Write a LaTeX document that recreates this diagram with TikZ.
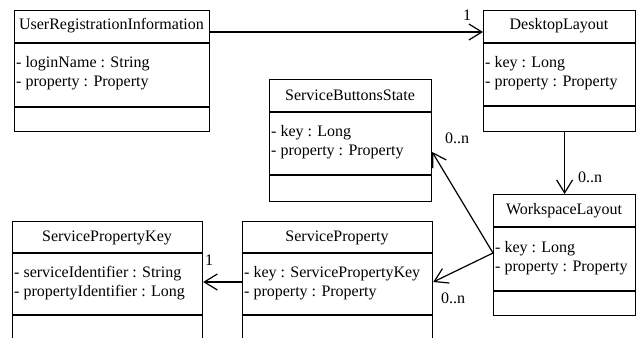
\documentclass[tikz,border=0pt]{standalone}
\usepackage{fontspec}
\setmainfont{Liberation Serif}
\usetikzlibrary{arrows.meta}
\begin{document}
\begin{tikzpicture}[x=1pt,y=-1pt, font=\fontsize{16}{19}\selectfont,
  box/.style={draw, line width=1.2pt, inner sep=0pt, anchor=north west},
  divider/.style={line width=1.2pt},
  attr/.style={inner sep=0pt, anchor=base west},
  hdr/.style={inner sep=0pt, anchor=base},
  mult/.style={inner sep=0pt},
  assoc/.style={line width=1.2pt, -{Straight Barb[length=13pt,width=16pt,line width=1.2pt]}}]
\useasboundingbox (0,0) rectangle (639,337);
\clip (0,0) rectangle (639,337);
% UserRegistrationInformation
\node[box, minimum width=195pt, minimum height=121pt] (uri) at (14,10) {};
\draw[divider] (14,43) -- (209,43) (14,107) -- (209,107);
\node[hdr] (urih) at (111.5,30) {UserRegistrationInformation};
\node[attr] (uria1) at (16,67) {- loginName : String};
\node[attr] (uria2) at (16,86) {- property : Property};
% DesktopLayout
\node[box, minimum width=152pt, minimum height=121pt] (dl) at (483,10) {};
\draw[divider] (483,43) -- (635,43) (483,106) -- (635,106);
\node[hdr] (dlh) at (559,30) {DesktopLayout};
\node[attr] (dla1) at (485,67) {- key : Long};
\node[attr] (dla2) at (485,86) {- property : Property};
% ServiceButtonsState
\node[box, minimum width=162pt, minimum height=122pt] (sbs) at (269,79) {};
\draw[divider] (269,112) -- (431,112) (269,175) -- (431,175);
\node[hdr] (sbsh) at (350,100) {ServiceButtonsState};
\node[attr] (sbsa1) at (271,136) {- key : Long};
\node[attr] (sbsa2) at (271,155) {- property : Property};
% WorkspaceLayout
\node[box, minimum width=142pt, minimum height=121pt] (wl) at (493,194) {};
\draw[divider] (493,227) -- (635,227) (493,291) -- (635,291);
\node[hdr] (wlh) at (564,214) {WorkspaceLayout};
\node[attr] (wla1) at (495,252) {- key : Long};
\node[attr] (wla2) at (495,271) {- property : Property};
% ServicePropertyKey
\node[box, minimum width=190pt, minimum height=140pt] (spk) at (12,221) {};
\draw[divider] (12,253) -- (202,253) (12,315) -- (202,315);
\node[hdr] (spkh) at (107,241) {ServicePropertyKey};
\node[attr] (spka1) at (14,277) {- serviceIdentifier : String};
\node[attr] (spka2) at (14,296) {- propertyIdentifier : Long};
% ServiceProperty
\node[box, minimum width=190pt, minimum height=140pt] (sp) at (242,221) {};
\draw[divider] (242,253) -- (432,253) (242,315) -- (432,315);
\node[hdr] (sph) at (337,241) {ServiceProperty};
\node[attr] (spa1) at (244,277) {- key : ServicePropertyKey};
\node[attr] (spa2) at (244,296) {- property : Property};
% connectors
\draw[assoc] (uri.east |- 0,32) -- (dl.west |- 0,32);
\draw[assoc] (wl.north |- dl.south) -- (wl.north);
\coordinate (wlport) at (wl.west |- 0,253);
\draw[assoc] (wlport) -- (sbs.east |- 0,152);
\draw[assoc] (wlport) -- (sp.east |- 0,282);
\draw[assoc] (sp.west |- 0,282) -- (spk.east |- 0,282);
% multiplicities
\node[mult] (m1) at (467,15) {1};
\node[mult] (m2) at (590,177) {0..n};
\node[mult] (m3) at (457,138) {0..n};
\node[mult] (m4) at (453,298) {0..n};
\node[mult] (m5) at (209,260) {1};
\end{tikzpicture}
\end{document}
